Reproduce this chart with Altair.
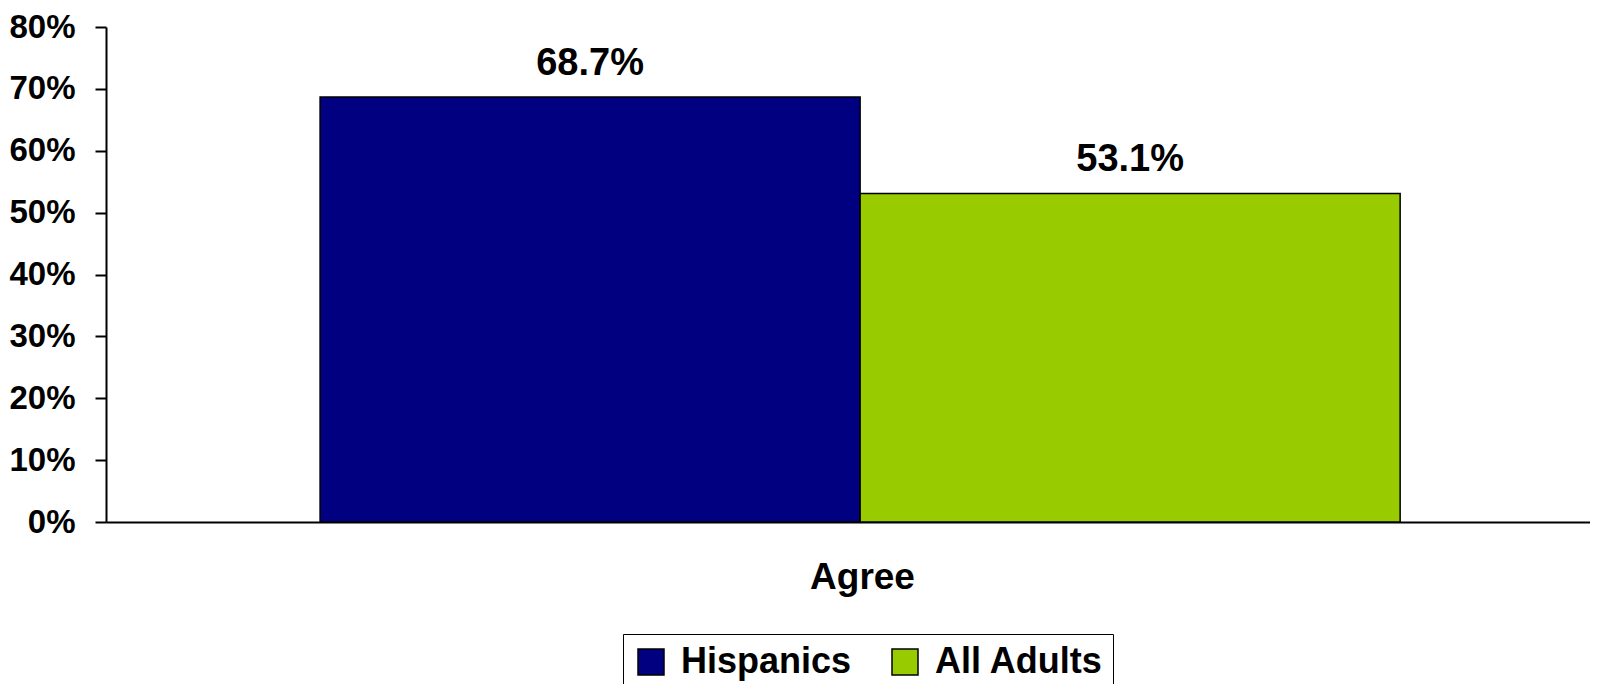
import altair as alt
import pandas as pd

categories = ["Agree", "Agree"]
series = ["Hispanics", "All Adults"]
values = [0.687, 0.531]
labels = ["68.7%", "53.1%"]
colors = ["#000080", "#99CC00"]
y_ticks = [0, 0.1, 0.2, 0.3, 0.4, 0.5, 0.6, 0.7, 0.8]

df = pd.DataFrame({"cat": categories, "series": series, "value": values, "label": labels})

FONT = "Liberation Sans"

x_enc = alt.X(
    "cat:N",
    title="Agree",
    scale=alt.Scale(paddingInner=0, paddingOuter=0.187, align=0.53),
    axis=alt.Axis(
        labels=False, ticks=False, domain=True, domainColor="black", domainWidth=2,
        titleFont=FONT, titleFontSize=37, titleFontWeight="bold", titleColor="black",
        titlePadding=37, titleX=756, titleAlign="center",
    ),
)
xoff = alt.XOffset("series:N", sort=series, scale=alt.Scale(paddingInner=0, paddingOuter=0))
y_enc = alt.Y(
    "value:Q",
    title=None,
    scale=alt.Scale(domain=[0, 0.8], nice=False),
    axis=alt.Axis(
        values=y_ticks, format=".0%", grid=False,
        labelFont=FONT, labelFontSize=33, labelFontWeight="bold", labelColor="black",
        labelPadding=20, tickSize=11, tickColor="black", tickWidth=2,
        domainColor="black", domainWidth=2,
    ),
)

bars = alt.Chart(df).mark_bar(stroke="black", strokeWidth=1.5).encode(
    x=x_enc,
    xOffset=xoff,
    y=y_enc,
    color=alt.Color(
        "series:N",
        sort=series,
        scale=alt.Scale(domain=series, range=colors),
        legend=alt.Legend(
            title=None, orient="none", legendX=517, legendY=607, direction="horizontal",
            symbolType="square", symbolSize=676, symbolStrokeColor="black", symbolStrokeWidth=1.5,
            labelFont=FONT, labelFontSize=36, labelFontWeight="bold", labelColor="black",
            labelOffset=12, columnPadding=35, padding=10,
            strokeColor="black", fillColor="white", symbolOpacity=1,
            labelLimit=400,
        ),
    ),
)

text = alt.Chart(df).mark_text(
    font=FONT, fontSize=38, fontWeight="bold", color="black", baseline="alphabetic", dy=-22
).encode(
    x=alt.X("cat:N"),
    xOffset=xoff,
    y=alt.Y("value:Q"),
    text="label:N",
)

chart = (bars + text).properties(
    width=1484,
    height=495,
    padding={"left": 98, "top": 19, "right": 0, "bottom": 162},
    autosize=alt.AutoSizeParams(type="none"),
).configure_view(stroke=None)

chart.save("out.html", embed_options={"renderer": "svg", "actions": False})
